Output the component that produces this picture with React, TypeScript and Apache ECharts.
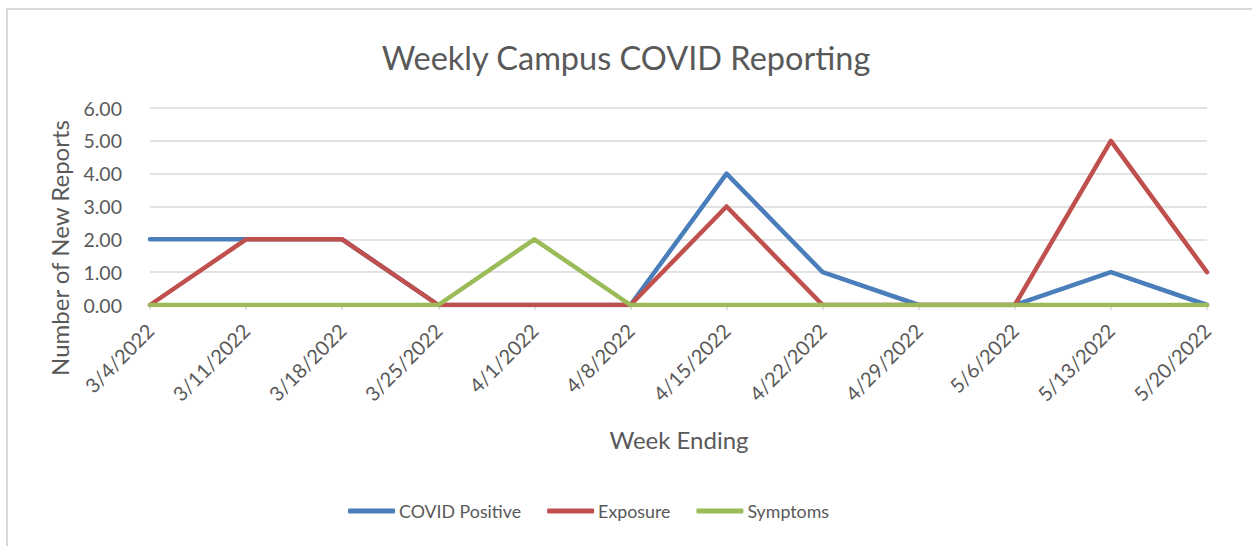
import React, { useEffect, useRef } from "react";
import * as echarts from "echarts";

const categories = [
  "3/4/2022", "3/11/2022", "3/18/2022", "3/25/2022", "4/1/2022", "4/8/2022",
  "4/15/2022", "4/22/2022", "4/29/2022", "5/6/2022", "5/13/2022", "5/20/2022",
];
const covidPositive = [2, 2, 2, 0, 0, 0, 4, 1, 0, 0, 1, 0];
const exposure = [0, 2, 2, 0, 0, 0, 3, 0, 0, 0, 5, 1];
const symptoms = [0, 0, 0, 0, 2, 0, 0, 0, 0, 0, 0, 0];

const FONT = "Lato";
const TEXT = "#595959";

export default function App() {
  const ref = useRef<HTMLDivElement>(null);
  useEffect(() => {
    if (!ref.current) return;
    const chart = echarts.init(ref.current, undefined, { renderer: "svg" });
    const mk = (name: string, data: number[], color: string) => ({
      name,
      type: "line",
      data,
      symbol: "none",
      color,
      lineStyle: { width: 4.5, color, cap: "round", join: "round" },
    });
    chart.setOption({
      animation: false,
      textStyle: { fontFamily: FONT },
      title: {
        text: "Weekly Campus COVID Reporting",
        left: 621,
        top: 36,
        textAlign: "center",
        textStyle: { fontFamily: FONT, fontSize: 32.5, fontWeight: "normal", color: TEXT },
      },
      graphic: [
        {
          type: "rect",
          shape: { x: 7, y: 9, width: 1300, height: 600 },
          style: { fill: "none", stroke: "#d9d9d9", lineWidth: 2 },
          silent: true,
        },
        {
          type: "text",
          x: 59,
          y: 248,
          rotation: Math.PI / 2,
          style: {
            text: "Number of New Reports",
            fontFamily: FONT,
            fontSize: 24,
            fill: TEXT,
            align: "center",
            verticalAlign: "middle",
          },
        },
        {
          type: "text",
          x: 679,
          y: 439,
          style: {
            text: "Week Ending",
            fontFamily: FONT,
            fontSize: 24,
            fill: TEXT,
            align: "center",
            verticalAlign: "middle",
          },
        },
      ],
      legend: {
        left: 343,
        top: 497,
        icon: "roundRect",
        itemWidth: 47,
        itemHeight: 5,
        itemGap: 26,
        textStyle: { fontFamily: FONT, fontSize: 17.8, color: TEXT, padding: [0, 0, 0, -1] },
        data: ["COVID Positive", "Exposure", "Symptoms"],
      },
      grid: { left: 150, right: 45, top: 108, bottom: 241, containLabel: false },
      xAxis: {
        type: "category",
        data: categories,
        boundaryGap: false,
        axisLine: { lineStyle: { color: "#d9d9d9", width: 1.5 } },
        axisTick: { show: true, length: 5, lineStyle: { color: "#d9d9d9", width: 1.5 } },
        axisLabel: {
          rotate: 45,
          margin: 22,
          fontFamily: FONT,
          fontSize: 20,
          color: TEXT,
        },
      },
      yAxis: {
        type: "value",
        min: 0,
        max: 6,
        interval: 1,
        axisLine: { show: false },
        axisTick: { show: false },
        axisLabel: {
          margin: 28,
          fontFamily: FONT,
          fontSize: 19.5,
          color: TEXT,
          formatter: (v: number) => v.toFixed(2),
        },
        splitLine: { lineStyle: { color: "#d9d9d9", width: 1.5 } },
      },
      series: [
        mk("COVID Positive", covidPositive, "#4a7ebb"),
        mk("Exposure", exposure, "#c0504d"),
        mk("Symptoms", symptoms, "#9bbb59"),
      ],
    });
    return () => chart.dispose();
  }, []);
  return (
    <div
      ref={ref}
      style={{ position: "absolute", left: 0, top: 0, width: 1252, height: 546, background: "#fff" }}
    />
  );
}
